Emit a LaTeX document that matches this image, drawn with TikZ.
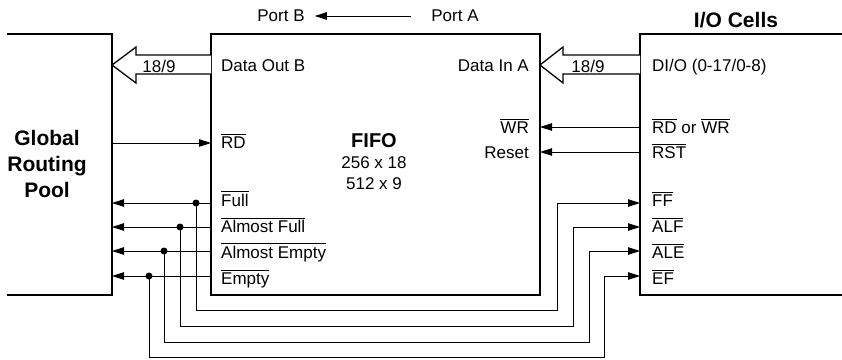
\documentclass[tikz,border=0pt]{standalone}
\usepackage{fontspec}
\setmainfont{Liberation Sans}
\usetikzlibrary{arrows.meta}
\newcommand\ovl[1]{\begingroup\setbox0=\hbox{#1}\rlap{\raisebox{\dimexpr\ht0+1.8pt\relax}{\rule{\wd0}{0.8pt}}}\box0\endgroup}
\begin{document}
\begin{tikzpicture}[x=1pt,y=-1pt,
 box/.style={line width=1.5pt},
 sig/.style={line width=0.8pt},
 arr/.style={sig,-{Triangle[length=12pt,width=7.5pt]}},
 bus/.style={line width=1.3pt,fill=white,line join=miter},
 lbl/.style={inner sep=0pt,font=\fontsize{17}{20}\selectfont},
 head/.style={inner sep=0pt,font=\fontsize{21}{26}\selectfont\bfseries},
 jdot/.style={circle,fill,inner sep=0pt,minimum size=7pt}]
\useasboundingbox (0,0) rectangle (842,359);

% ---- boxes
\coordinate (gTL) at (7,34); \coordinate (gTR) at (112,34);
\coordinate (gBR) at (112,295); \coordinate (gBL) at (7,295);
\draw[box] (gTL) -- (gTR) -- (gBR) -- (gBL);
\node[draw,box,minimum width=329pt,minimum height=261pt,anchor=north west,inner sep=0pt,outer sep=0pt] (fifo) at (211,34) {};
\coordinate (iTR) at (842,34); \coordinate (iTL) at (640,34);
\coordinate (iBL) at (640,295); \coordinate (iBR) at (842,295);
\draw[box] (iTR) -- (iTL) -- (iBL) -- (iBR);

% ---- headings
\node[head,align=center] (grp) at (47,164) {Global\\Routing\\Pool};
\node[head,font=\fontsize{20}{24}\selectfont\bfseries] (fifot) at (374,141) {FIFO};
\node[lbl] (sz1) at (374,163) {256 x 18};
\node[lbl] (sz2) at (374,184) {512 x 9};
\node[head] (io) at (736,20) {I/O Cells};

% ---- ports
\node[lbl] (portb) at (281,16) {Port B};
\node[lbl] (porta) at (455,16) {Port A};
\draw[arr] ([xshift=-20pt]porta.west) -- ([xshift=10pt]portb.east);

% ---- data buses
\draw[bus] (211,55) -- (136,55) -- (136,47) -- (112,65) -- (136,83) -- (136,74) -- (211,74);
\node[lbl,anchor=base] (wb) at (159,72) {18/9};
\draw[bus] (640,55) -- (563,55) -- (563,47) -- (540,65) -- (563,83) -- (563,74) -- (640,74);
\node[lbl,anchor=base] (wa) at (588,72) {18/9};

\node[lbl,anchor=base west] (dob) at (221,71.5) {Data Out B};
\node[lbl,anchor=base east] (dia) at (529,71.5) {Data In A};
\node[lbl,anchor=base west] (dio) at (652,71.5) {DI/O (0-17/0-8)};

% ---- control signals
\node[lbl,anchor=base west] (rd) at (221,148.5) {\ovl{RD}};
\coordinate (rdS) at (112,143); \coordinate (rdE) at (211,143);
\draw[arr] (rdS) -- (rdE);

\node[lbl,anchor=base east] (wr) at (529,133) {\ovl{WR}};
\node[lbl,anchor=base east] (rst) at (529,158) {Reset};
\node[lbl,anchor=base west] (rdwr) at (652,133) {\ovl{RD} or \ovl{WR}};
\node[lbl,anchor=base west] (rsti) at (652,158) {\ovl{RST}};
\coordinate (wrS) at (640,127); \coordinate (wrE) at (540,127);
\coordinate (rsS) at (640,152); \coordinate (rsE) at (540,152);
\draw[arr] (wrS) -- (wrE);
\draw[arr] (rsS) -- (rsE);

% ---- flags
\node[lbl,anchor=base west] (full) at (221,206) {\ovl{Full}};
\node[lbl,anchor=base west] (afull) at (221,232.5) {\ovl{Almost Full}};
\node[lbl,anchor=base west] (aempty) at (221,258) {\ovl{Almost Empty}};
\node[lbl,anchor=base west] (empty) at (221,284) {\ovl{Empty}};
\node[lbl,anchor=base west] (ff) at (652,206) {\ovl{FF}};
\node[lbl,anchor=base west] (alf) at (652,232.5) {\ovl{ALF}};
\node[lbl,anchor=base west] (ale) at (652,258) {\ovl{ALE}};
\node[lbl,anchor=base west] (ef) at (652,284) {\ovl{EF}};

% Full
\coordinate (f1s) at (211,203); \coordinate (f1e) at (112,203);
\node[jdot] (d1) at (196,203) {};
\coordinate (f1r) at (640,203);
\draw[arr] (f1s) -- (f1e);
\draw[arr] (d1.center) -- (196,310) -- (557,310) -- (557,203) -- (f1r);
% Almost Full
\coordinate (f2s) at (211,227); \coordinate (f2e) at (112,227);
\node[jdot] (d2) at (180,227) {};
\coordinate (f2r) at (640,227);
\draw[arr] (f2s) -- (f2e);
\draw[arr] (d2.center) -- (180,326) -- (573,326) -- (573,227) -- (f2r);
% Almost Empty
\coordinate (f3s) at (211,251); \coordinate (f3e) at (112,251);
\node[jdot] (d3) at (164,251) {};
\coordinate (f3r) at (640,251);
\draw[arr] (f3s) -- (f3e);
\draw[arr] (d3.center) -- (164,342) -- (589,342) -- (589,251) -- (f3r);
% Empty
\coordinate (f4s) at (211,276); \coordinate (f4e) at (112,276);
\node[jdot] (d4) at (149,276) {};
\coordinate (f4r) at (640,276);
\draw[arr] (f4s) -- (f4e);
\draw[arr] (d4.center) -- (149,357) -- (604,357) -- (604,276) -- (f4r);
\end{tikzpicture}
\end{document}
